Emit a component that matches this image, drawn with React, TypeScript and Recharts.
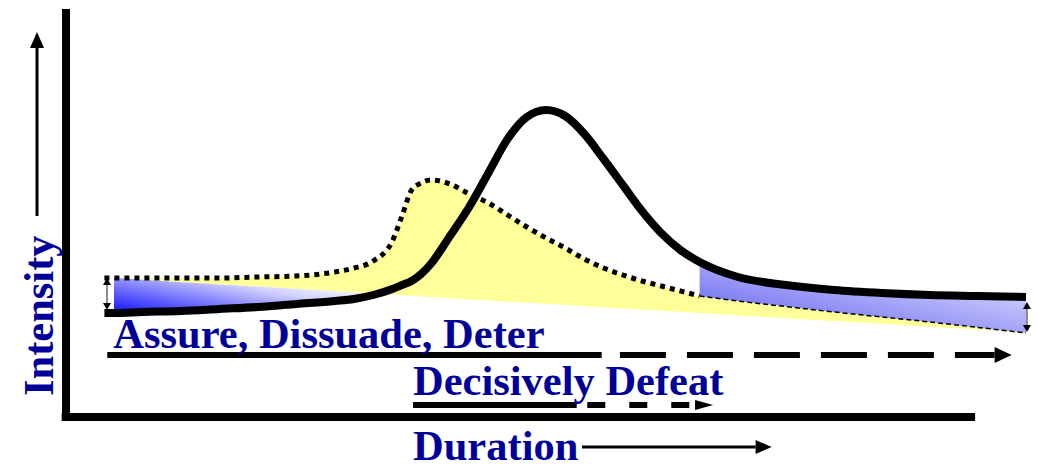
import { ComposedChart, XAxis, YAxis, Area, Line, ReferenceLine } from 'recharts'

// duration runs 0..100 along the plot, intensity 0..100 up the plot
const DURATION = [4, 5, 8, 12, 16, 20, 24, 28, 30, 32, 34, 35, 36, 37, 38, 40, 42, 44, 46, 48, 50, 52, 54, 56, 58, 60, 62, 64, 66, 70, 75, 80, 85, 90, 95, 100]
// solid curve
const MAIN_EFFORT = [25, 25, 25.25, 25.5, 26, 26.5, 27.25, 28, 28.5, 29.5, 31, 32, 33, 34.75, 37.25, 44.25, 51.5, 60, 68.5, 74, 75.75, 74.25, 69.75, 63.5, 57, 50.5, 45, 40.75, 37.75, 34, 32, 30.75, 30, 29.5, 29.25, 29]
// dotted curve (thin dashed after 66)
const SHAPING = [33.75, 33.75, 33.75, 33.75, 33.75, 34, 34.25, 35.25, 36.25, 38, 43, 49.25, 55.75, 57.5, 58.25, 57.25, 54.75, 52.5, 49.5, 46.5, 43.75, 41.25, 38.5, 36.25, 34.5, 33, 31.75, 30.5, 29.25, 28, 26.6, 25.25, 24, 22.75, 21.4, 20]
// lower edge of the yellow band
const FLOOR = [33.75, 33.73, 33.3, 32.7, 32.15, 31.6, 31, 30.45, 30.15, 29.9, 29.6, 29.45, 29.3, 29.15, 29, 28.7, 28.4, 28.15, 27.85, 27.55, 27.3, 27, 26.7, 26.4, 26.15, 25.85, 25.55, 25.3, 25, 24.4, 23.7, 23, 22.3, 21.55, 20.85, 20]

const PHASE_LABELS = ['Assure, Dissuade, Deter', 'Decisively Defeat']
const PHASE_START = [4.3, 36.15]
const PHASE_SOLID_END = [55.8, 53.2]
const PHASE_DASH_START = [57.7, 54.3]
const PHASE_END = [98.5, 67.4]
const PHASE_LEVEL = [14.5, 2]

const NAVY = '#000099'
const FONT = "'Liberation Serif', 'Times New Roman', serif"
const FONT_SIZE = 42.5

const rows = DURATION.map((d, i) => ({ d, main: MAIN_EFFORT[i], shaping: SHAPING[i], floor: FLOOR[i] }))
const yellowRows = rows.filter((r) => r.d >= 5)
const leftBlueRows = rows.filter((r) => r.d >= 5 && r.d <= 32)
const rightBlueRows = rows.filter((r) => r.d >= 66)
const dottedRows = rows.filter((r) => r.d <= 66)

type SegProps = { x1?: number; y1?: number; x2?: number; y2?: number }

function arrowShape(width: number, headLen: number, headHalf: number, dash?: string, label?: string, labelDx = 0, labelDy = 0) {
  return (p: SegProps) => {
    const x1 = p.x1 ?? 0
    const y1 = p.y1 ?? 0
    const x2 = p.x2 ?? 0
    const y2 = p.y2 ?? 0
    const len = Math.hypot(x2 - x1, y2 - y1) || 1
    const ux = (x2 - x1) / len
    const uy = (y2 - y1) / len
    const bx = x2 - ux * headLen
    const by = y2 - uy * headLen
    return (
      <g>
        <line x1={x1} y1={y1} x2={headLen ? bx : x2} y2={headLen ? by : y2} stroke="#000" strokeWidth={width} strokeDasharray={dash} />
        {headLen > 0 && (
          <polygon
            points={`${x2},${y2} ${bx - uy * headHalf},${by + ux * headHalf} ${bx + uy * headHalf},${by - ux * headHalf}`}
            fill="#000"
          />
        )}
        {label && (
          <text x={x1 + labelDx} y={y1 + labelDy} fill={NAVY} fontFamily={FONT} fontWeight="bold" fontSize={FONT_SIZE}>
            {label}
          </text>
        )}
      </g>
    )
  }
}

function doubleArrow(p: SegProps) {
  const x = p.x1 ?? 0
  const top = Math.min(p.y1 ?? 0, p.y2 ?? 0)
  const bot = Math.max(p.y1 ?? 0, p.y2 ?? 0)
  return (
    <g>
      <line x1={x} y1={top + 4} x2={x} y2={bot - 4} stroke="#666" strokeWidth={1.5} />
      <polygon points={`${x},${top} ${x - 4},${top + 7} ${x + 4},${top + 7}`} fill="#000" />
      <polygon points={`${x},${bot} ${x - 4},${bot - 7} ${x + 4},${bot - 7}`} fill="#000" />
    </g>
  )
}

function intensityTitle(p: SegProps) {
  const x = p.x1 ?? 0
  const y = p.y1 ?? 0
  return (
    <text x={x} y={y} transform={`rotate(-90 ${x} ${y})`} fill={NAVY} fontFamily={FONT} fontWeight="bold" fontSize={FONT_SIZE}>
      Intensity
    </text>
  )
}

function durationTitle(p: SegProps) {
  return (
    <text x={p.x1 ?? 0} y={p.y1 ?? 0} fill={NAVY} fontFamily={FONT} fontWeight="bold" fontSize={FONT_SIZE}>
      Duration
    </text>
  )
}

export default function App() {
  return (
    <div style={{ position: 'absolute', left: 0, top: 0, width: 1038, height: 465, background: '#fff' }}>
      <ComposedChart width={1038} height={465} data={rows} margin={{ top: 13, right: 12, bottom: 52, left: 66 }}>
        <defs>
          <linearGradient id="blueLeft" x1="0" y1="1" x2="1" y2="0.3">
            <stop offset="0" stopColor="#1010ff" />
            <stop offset="0.35" stopColor="#7070ff" />
            <stop offset="0.7" stopColor="#d2d2ff" />
            <stop offset="1" stopColor="#ffffff" />
          </linearGradient>
          <linearGradient id="blueRight" x1="0" y1="1" x2="1" y2="0">
            <stop offset="0" stopColor="#5656f0" />
            <stop offset="1" stopColor="#f0f0ff" />
          </linearGradient>
        </defs>
        <XAxis dataKey="d" type="number" domain={[0, 100]} hide allowDataOverflow />
        <YAxis type="number" domain={[0, 100]} hide allowDataOverflow />

        <Area data={yellowRows} dataKey={(r: any) => [r.floor, r.shaping]} type="monotone" stroke="none" fill="#ffff99" fillOpacity={1} isAnimationActive={false} dot={false} activeDot={false} />
        <Area data={leftBlueRows} dataKey={(r: any) => [r.main, r.floor]} type="monotone" stroke="none" fill="url(#blueLeft)" fillOpacity={1} isAnimationActive={false} dot={false} activeDot={false} />
        <Area data={rightBlueRows} dataKey={(r: any) => [r.shaping, r.main]} type="monotone" stroke="none" fill="url(#blueRight)" fillOpacity={1} isAnimationActive={false} dot={false} activeDot={false} />

        <Line data={dottedRows} dataKey="shaping" type="monotone" stroke="#000" strokeWidth={5} strokeDasharray="5 5" dot={false} activeDot={false} isAnimationActive={false} />
        <Line data={rightBlueRows} dataKey="shaping" type="monotone" stroke="#000" strokeWidth={1.5} strokeDasharray="5 3" dot={false} activeDot={false} isAnimationActive={false} />
        <Line dataKey="main" type="monotone" stroke="#000" strokeWidth={8} dot={false} activeDot={false} isAnimationActive={false} />

        {/* axes */}
        <ReferenceLine segment={[{ x: 0, y: -2 }, { x: 0, y: 101 }]} ifOverflow="visible" stroke="#000" strokeWidth={8} />
        <ReferenceLine segment={[{ x: -0.45, y: -1 }, { x: 94.7, y: -1 }]} ifOverflow="visible" stroke="#000" strokeWidth={8} />

        {/* range markers */}
        <ReferenceLine segment={[{ x: 4.27, y: 33.75 }, { x: 4.27, y: 25.75 }]} ifOverflow="visible" shape={doubleArrow} />
        <ReferenceLine segment={[{ x: 100.1, y: 27.75 }, { x: 100.1, y: 20.25 }]} ifOverflow="visible" shape={doubleArrow} />

        {/* phase arrows */}
        {PHASE_LABELS.map((label, i) => (
          <ReferenceLine
            key={`s${i}`}
            segment={[{ x: PHASE_START[i], y: PHASE_LEVEL[i] }, { x: PHASE_SOLID_END[i], y: PHASE_LEVEL[i] }]}
            ifOverflow="visible"
            shape={arrowShape(6, 0, 0, undefined, label, i === 0 ? 6 : 0, i === 0 ? -7 : -10)}
          />
        ))}
        {PHASE_LABELS.map((label, i) => (
          <ReferenceLine
            key={`d${i}`}
            segment={[{ x: PHASE_DASH_START[i], y: PHASE_LEVEL[i] }, { x: PHASE_END[i], y: PHASE_LEVEL[i] }]}
            ifOverflow="visible"
            shape={arrowShape(6, i === 0 ? 17 : 18, i === 0 ? 8 : 5, i === 0 ? '46 21' : '18 24')}
          />
        ))}

        {/* axis titles */}
        <ReferenceLine segment={[{ x: -1.4, y: 4.25 }, { x: -1.4, y: 4.25 }]} ifOverflow="visible" shape={intensityTitle} />
        <ReferenceLine segment={[{ x: -3.02, y: 49.25 }, { x: -3.02, y: 95.25 }]} ifOverflow="visible" shape={arrowShape(3, 16, 7)} />
        <ReferenceLine segment={[{ x: 36.15, y: -11.75 }, { x: 36.15, y: -11.75 }]} ifOverflow="visible" shape={durationTitle} />
        <ReferenceLine segment={[{ x: 53.75, y: -8.5 }, { x: 73.5, y: -8.5 }]} ifOverflow="visible" shape={arrowShape(3, 16, 7)} />
      </ComposedChart>
    </div>
  )
}
